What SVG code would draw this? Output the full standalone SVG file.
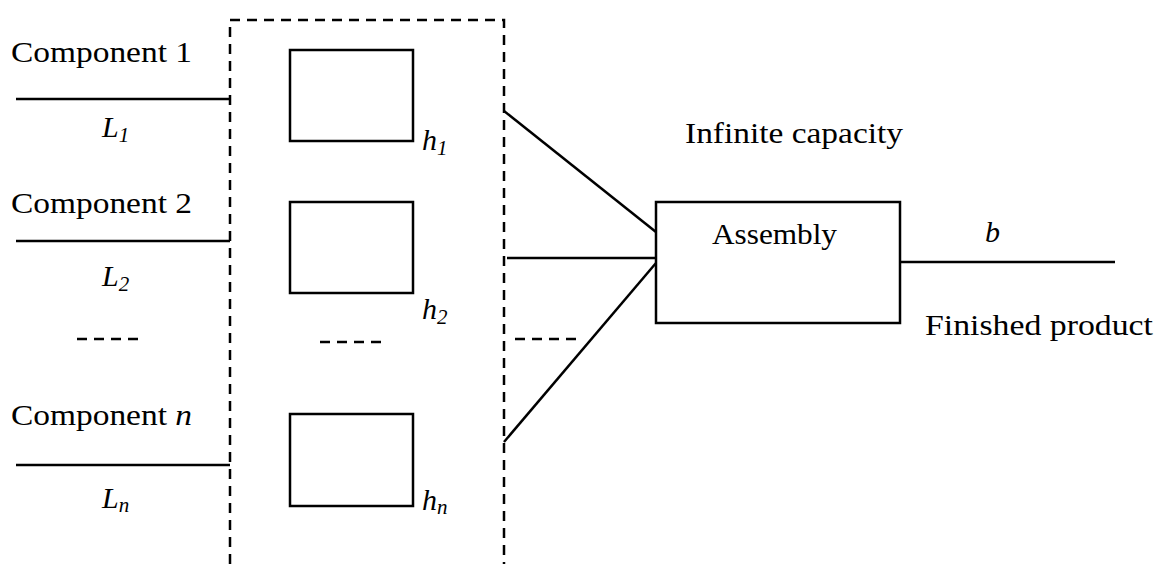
<svg xmlns="http://www.w3.org/2000/svg" width="1160" height="564" viewBox="0 0 1160 564">
  <style>
    .box { fill: #fff; stroke: #000; stroke-width: 2.5; }
    .line { fill: none; stroke: #000; stroke-width: 2.5; }
    .dash { fill: none; stroke: #000; stroke-width: 2.5; stroke-dasharray: 10 7; }
    .t { font-family: "Liberation Serif", "Times New Roman", serif; font-size: 30px; fill: #000; }
    .i { font-style: italic; }
    .sub { font-size: 21px; font-style: italic; }
  </style>
  <rect width="1160" height="564" fill="#fff"/>

  <!-- storage boundary -->
  <g id="stock-area">
    <path class="dash" d="M230,564 V20 H504 V564"/>
  </g>

  <!-- component inputs -->
  <g id="component-1">
    <text class="t" x="11" y="62" textLength="181" lengthAdjust="spacingAndGlyphs">Component 1</text>
    <text class="t i" x="102" y="137">L<tspan class="sub" dy="5">1</tspan></text>
  </g>
  <g id="component-2">
    <text class="t" x="11" y="213" textLength="181" lengthAdjust="spacingAndGlyphs">Component 2</text>
    <text class="t i" x="102" y="286">L<tspan class="sub" dy="5">2</tspan></text>
  </g>
  <g id="component-n">
    <text class="t" x="11" y="425" textLength="181" lengthAdjust="spacingAndGlyphs">Component <tspan class="i">n</tspan></text>
    <text class="t i" x="102" y="508">L<tspan class="sub" dy="4">n</tspan></text>
  </g>

  <!-- buffers -->
  <g id="buffer-1">
    <rect class="box" x="290" y="50" width="123" height="91"/>
    <text class="t i" x="422" y="150">h<tspan class="sub" dy="5">1</tspan></text>
  </g>
  <g id="buffer-2">
    <rect class="box" x="290" y="202" width="123" height="91"/>
    <text class="t i" x="422" y="319">h<tspan class="sub" dy="5">2</tspan></text>
  </g>
  <g id="buffer-n">
    <rect class="box" x="290" y="414" width="123" height="92"/>
    <text class="t i" x="422" y="510">h<tspan class="sub" dy="4">n</tspan></text>
  </g>

  <!-- assembly station -->
  <g id="assembly">
    <rect class="box" x="656" y="202" width="244" height="121"/>
    <text class="t" x="712" y="244" textLength="125" lengthAdjust="spacingAndGlyphs">Assembly</text>
    <text class="t" x="685" y="143" textLength="218" lengthAdjust="spacingAndGlyphs">Infinite capacity</text>
  </g>

  <g id="finished-product">
    <text class="t i" x="985" y="242">b</text>
    <text class="t" x="925" y="335" textLength="228" lengthAdjust="spacingAndGlyphs">Finished product</text>
  </g>

  <!-- flows -->
  <g id="connectors">
    <line class="line" x1="16" y1="99" x2="230" y2="99"/>
    <line class="line" x1="16" y1="241" x2="230" y2="241"/>
    <line class="line" x1="16" y1="465" x2="230" y2="465"/>
    <line class="line" x1="504" y1="111" x2="656" y2="232"/>
    <line class="line" x1="507" y1="258" x2="656" y2="258"/>
    <line class="line" x1="504" y1="442" x2="656" y2="263"/>
    <line class="line" x1="900" y1="262" x2="1115" y2="262"/>
    <!-- ellipsis dashes -->
    <line class="dash" x1="77" y1="339" x2="140" y2="339"/>
    <line class="dash" x1="320" y1="342" x2="383" y2="342"/>
    <line class="dash" x1="515" y1="339" x2="577" y2="339"/>
  </g>
</svg>
